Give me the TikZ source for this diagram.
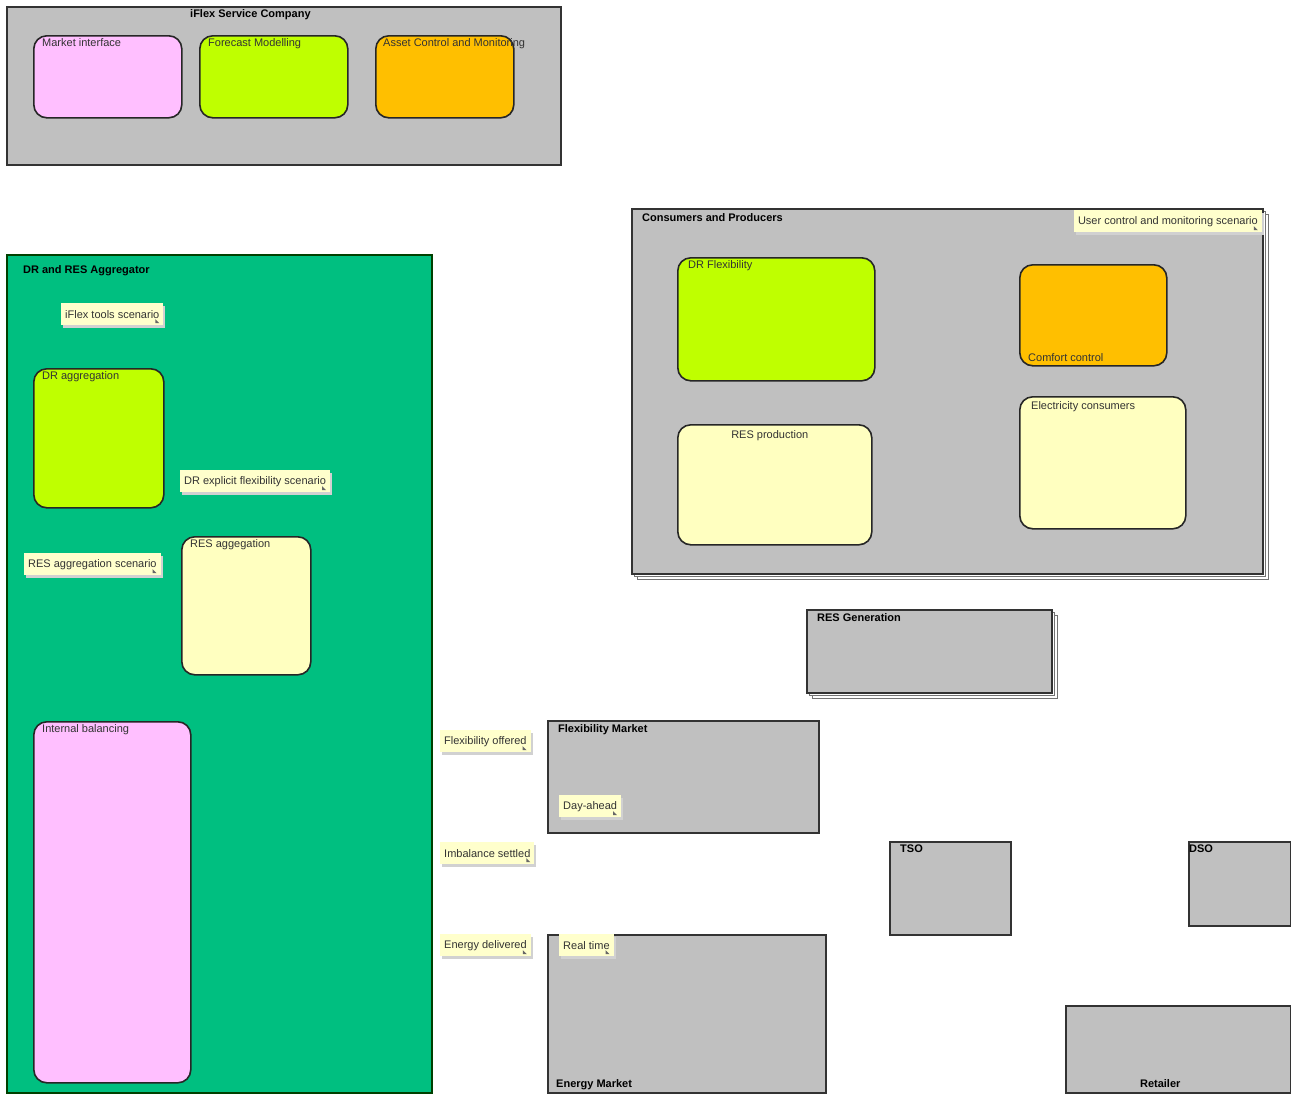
\documentclass[tikz,border=0pt]{standalone}
\usepackage{fontspec}
\setmainfont{Liberation Sans}
\usetikzlibrary{positioning,shadows}
\definecolor{PkgGray}{HTML}{C0C0C0}
\definecolor{AggGreen}{HTML}{00BF80}
\definecolor{CompPink}{HTML}{FFBFFF}
\definecolor{CompLime}{HTML}{BFFF00}
\definecolor{CompOrange}{HTML}{FFBF00}
\definecolor{CompCream}{HTML}{FFFFC0}
\definecolor{NoteCream}{HTML}{FFFFCC}

\begin{document}
\begin{tikzpicture}[x=1pt,y=-1pt,font=\fontsize{11}{13}\selectfont,
  pkg/.style={draw=black!80,line width=1.5pt,fill=PkgGray,anchor=north west,inner sep=0pt},
  stack/.style={copy shadow={shadow xshift=6pt,shadow yshift=-6pt,fill=white,draw=black!55,line width=.8pt},
    copy shadow={shadow xshift=3pt,shadow yshift=-3pt,fill=white,draw=black!55,line width=.8pt}},
  comp/.style={draw=black!85,line width=1.6pt,rounded corners=13pt,anchor=north west,inner sep=0pt},
  note/.style={fill=NoteCream,anchor=north west,inner xsep=4pt,minimum height=22pt,text=black!80,
    drop shadow={shadow xshift=2pt,shadow yshift=-3pt,fill=black!18,opacity=1},
    path picture={\fill[black!60] ([shift={(-8pt,2pt)}]path picture bounding box.south east)
      -- ++(4pt,0pt) -- ++(-4pt,4pt) -- cycle;}},
  ttl/.style={font=\fontsize{11}{13}\selectfont\bfseries,inner sep=0pt},
  lbl/.style={text=black!80,inner sep=0pt}]
  \path[use as bounding box,fill=white] (0,0) rectangle (1291,1093);

  % iFlex Service Company
  \node[pkg,minimum width=554pt,minimum height=158pt] (isc) at (6,6) {};
  \node[ttl,below right=3pt and 184pt of isc.north west] (iscT) {iFlex Service Company};
  \node[comp,fill=CompPink,minimum width=148pt,minimum height=82pt] (mi) at (33,35) {};
  \node[lbl,below right=3pt and 9pt of mi.north west] (miT) {Market interface};
  \node[comp,fill=CompLime,minimum width=148pt,minimum height=82pt] (fm) at (199,35) {};
  \node[lbl,below right=3pt and 9pt of fm.north west] (fmT) {Forecast Modelling};
  \node[comp,fill=CompOrange,minimum width=138pt,minimum height=82pt] (acm) at (375,35) {};
  \node[lbl,below right=3pt and 8pt of acm.north west] (acmT) {Asset Control and Monitoring};

  % Consumers and Producers
  \node[pkg,stack,minimum width=631pt,minimum height=365pt] (cp) at (631,208) {};
  \node[ttl,below right=5pt and 11pt of cp.north west] (cpT) {Consumers and Producers};
  \node[note,anchor=north east] (ucm) at (1262,210) {User control and monitoring scenario};
  \node[comp,fill=CompLime,minimum width=197pt,minimum height=123pt] (drf) at (677,257) {};
  \node[lbl,below right=3pt and 11pt of drf.north west] (drfT) {DR Flexibility};
  \node[comp,fill=CompOrange,minimum width=147pt,minimum height=101pt] (cc) at (1019,264) {};
  \node[lbl,above right=5pt and 9pt of cc.south west] (ccT) {Comfort control};
  \node[comp,fill=CompCream,minimum width=194pt,minimum height=120pt] (rp) at (677,424) {};
  \node[lbl,below=6pt of rp.north,xshift=-5pt] (rpT) {RES production};
  \node[comp,fill=CompCream,minimum width=166pt,minimum height=132pt] (ec) at (1019,396) {};
  \node[lbl,below right=5pt and 12pt of ec.north west] (ecT) {Electricity consumers};

  % DR and RES Aggregator
  \node[pkg,fill=AggGreen,draw=black!75!green,minimum width=425pt,minimum height=838pt] (agg) at (6,254) {};
  \node[ttl,below right=11pt and 17pt of agg.north west] (aggT) {DR and RES Aggregator};
  \node[note] (its) at (61,303) {iFlex tools scenario};
  \node[comp,fill=CompLime,minimum width=130pt,minimum height=139pt] (dra) at (33,368) {};
  \node[lbl,below right=3pt and 9pt of dra.north west] (draT) {DR aggregation};
  \node[note] (dre) at (180,470) {DR explicit flexibility scenario};
  \node[note] (ras) at (24,553) {RES aggregation scenario};
  \node[comp,fill=CompCream,minimum width=129pt,minimum height=138pt] (ra) at (181,536) {};
  \node[lbl,below right=3pt and 9pt of ra.north west] (raT) {RES aggegation};
  \node[comp,fill=CompPink,minimum width=157pt,minimum height=361pt] (ib) at (33,721) {};
  \node[lbl,below right=3pt and 9pt of ib.north west] (ibT) {Internal balancing};

  % RES Generation
  \node[pkg,stack,minimum width=245pt,minimum height=83pt] (rg) at (806,609) {};
  \node[ttl,below right=4pt and 11pt of rg.north west] (rgT) {RES Generation};

  % markets
  \node[note] (fo) at (440,730) {Flexibility offered};
  \node[note] (is) at (440,842) {Imbalance settled};
  \node[note] (ed) at (440,934) {Energy delivered};
  \node[pkg,minimum width=271pt,minimum height=112pt] (fmk) at (547,720) {};
  \node[ttl,below right=4pt and 11pt of fmk.north west] (fmkT) {Flexibility Market};
  \node[note] (da) at (559,795) {Day-ahead};
  \node[pkg,minimum width=278pt,minimum height=158pt] (emk) at (547,934) {};
  \node[ttl,above right=3pt and 9pt of emk.south west] (emkT) {Energy Market};
  \node[note] (rt) at (559,934) {Real time};

  % TSO, DSO, Retailer
  \node[pkg,minimum width=121pt,minimum height=93pt] (tso) at (889,841) {};
  \node[ttl,below right=4pt and 11pt of tso.north west] (tsoT) {TSO};
  \node[pkg,minimum width=102pt,minimum height=84pt] (dso) at (1188,841) {};
  \node[ttl,below right=4pt and 1pt of dso.north west] (dsoT) {DSO};
  \node[pkg,minimum width=225pt,minimum height=87pt] (ret) at (1065,1005) {};
  \node[ttl,above=6pt of ret.south,xshift=-18pt] (retT) {Retailer};
\end{tikzpicture}
\end{document}
